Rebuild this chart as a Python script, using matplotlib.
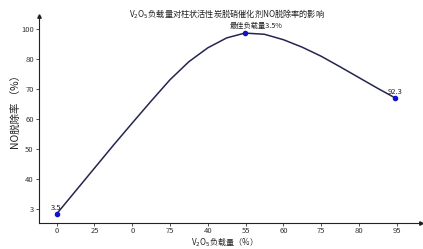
import matplotlib
matplotlib.use('Agg')
import matplotlib.pyplot as plt

plt.rcParams['font.family'] = ['Noto Sans CJK SC', 'DejaVu Sans']

# tick labels as printed in the picture (evenly spaced)
x_labels = ['0', '25', '0', '75', '40', '55', '60', '75', '80', '95']
y_labels = ['3', '40', '50', '60', '70', '80', '100']
y_ticks = [40, 50, 60, 70, 80, 90, 100]

# marked points
pt_x = [0, 4.98, 8.95]
pt_y = [38.4, 98.5, 77.0]
pt_text = ['3.5', '最佳负载量3.5%', '92.3']

# smooth curve
curve_x = [0, 0.5, 1.0, 1.5, 2.0, 2.5, 3.0, 3.5, 4.0, 4.5, 4.98,
           5.5, 6.0, 6.5, 7.0, 7.5, 8.0, 8.5, 8.95]
curve_y = [38.4, 46.0, 53.6, 61.2, 68.6, 75.9, 83.0, 89.0, 93.6, 96.9, 98.5,
           98.1, 96.3, 93.8, 90.8, 87.3, 83.7, 80.1, 77.0]

fig = plt.figure(figsize=(4.23, 2.49), dpi=100)
ax = fig.add_axes([0.093, 0.105, 0.902, 0.831])

ax.plot(curve_x, curve_y, color='#25254f', lw=1.1, zorder=2,
        solid_joinstyle='round')
ax.plot(pt_x, pt_y, 'o', color='#1212c8', ms=3, zorder=3)

ax.text(pt_x[0] - 0.03, pt_y[0] + 0.6, pt_text[0], fontsize=5.5, ha='center', va='bottom', color='#222222')
ax.text(pt_x[1] + 0.3, pt_y[1] + 1.0, pt_text[1], fontsize=5.2, ha='center', va='bottom', color='#222222')
ax.text(pt_x[2], pt_y[2] + 0.6, pt_text[2], fontsize=5.5, ha='center', va='bottom', color='#222222')

ax.set_xlim(-0.46, 9.64)
ax.set_ylim(35.4, 104.2)
ax.set_xticks(range(len(x_labels)))
ax.set_xticklabels(x_labels)
ax.set_yticks(y_ticks)
ax.set_yticklabels(y_labels)
ax.tick_params(labelsize=5.5, length=2, width=0.6, colors='#333333', pad=2)
ax.tick_params(axis='x', pad=1)

for s in ['top', 'right']:
    ax.spines[s].set_visible(False)
for s in ['left', 'bottom']:
    ax.spines[s].set_linewidth(0.8)
    ax.spines[s].set_color('#222222')

# arrow heads on the axes
ax.plot(1, 0, '>', color='#222222', ms=2.5, transform=ax.transAxes, clip_on=False)
ax.plot(0, 1, '^', color='#222222', ms=2.5, transform=ax.transAxes, clip_on=False)

fig.text(0.537, 0.944, 'V$_2$O$_5$负载量对柱状活性炭脱硝催化剂NO脱除率的影响',
         fontsize=5.9, ha='center', va='center', color='#222222')
ax.set_ylabel('NO脱除率 （%）', fontsize=7.5, color='#222222')
ax.yaxis.set_label_coords(-0.045, 0.55)
ax.set_xlabel('V$_2$O$_5$负载量（%）', fontsize=5.8, color='#222222', va='bottom')
ax.xaxis.set_label_coords(0.525, 0.004, transform=fig.transFigure)

fig.savefig('out.png', dpi=100)
